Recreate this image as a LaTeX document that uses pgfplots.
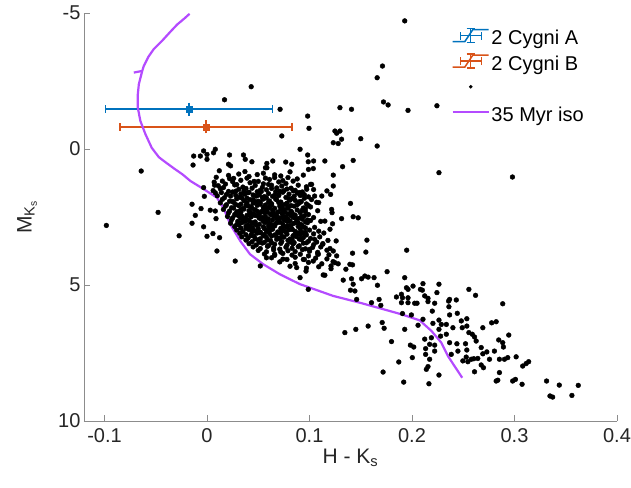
\documentclass[border=0pt]{standalone}
\usepackage{fontspec}
\setmainfont{Liberation Sans}
\usepackage{pgfplots}
\usepackage{pgfplotstable}
\pgfplotsset{compat=1.18}
\definecolor{cA}{rgb}{0,0.447,0.741}
\definecolor{cB}{rgb}{0.85,0.325,0.098}
\definecolor{iso}{RGB}{180,75,255}
\newcommand{\rowstrut}{\rule[-7pt]{0pt}{27pt}}

% field stars: H-Ks  MKs
\pgfplotstableread{
x y
0.1929 -4.71
0.1712 -3.05
0.1660 -2.62
0.1722 -1.73
0.1767 -1.62
0.1961 -1.42
0.2243 -1.59
0.0431 -2.29
0.0171 -1.81
0.0713 -1.46
0.1297 -1.52
0.1410 -1.46
0.0982 -1.21
0.0995 -0.76
0.0730 -0.48
0.1248 -0.66
0.1297 -0.66
0.1265 -0.58
0.1313 -0.36
0.1232 -0.23
0.1280 -0.20
0.1500 -0.38
0.1660 -0.11
0.0908 0.01
0.0982 0.22
0.1150 0.44
0.1426 0.42
0.2980 1.03
0.2263 0.87
-0.0642 0.81
-0.0033 0.07
0.0081 0.01
-0.0130 0.26
-0.0065 0.26
0.0000 0.20
0.0064 0.14
0.0000 0.38
-0.0136 0.59
0.0220 0.22
0.0210 0.56
0.0356 0.22
0.0373 0.38
0.0438 0.47
0.0584 0.53
0.0642 0.44
0.0584 0.69
0.0988 0.47
0.0768 0.48
0.0827 0.56
0.1037 0.72
0.1323 0.65
0.1232 0.96
0.1232 1.36
0.1206 1.67
0.1021 1.30
0.0973 1.48
0.0924 1.67
0.0842 1.54
0.1040 0.44
0.0990 0.75
0.0570 0.69
0.0230 0.62
0.1170 1.54
0.1050 1.73
0.1090 1.97
0.1220 2.34
0.1150 2.65
0.1200 2.95
0.1260 3.38
-0.0477 2.33
-0.0982 2.81
-0.0272 3.19
-0.0033 1.42
-0.0026 1.74
-0.0146 2.03
-0.0114 2.44
-0.0146 2.73
-0.0058 2.19
-0.0033 2.86
0.0000 3.21
0.0058 3.11
0.0097 3.75
0.0123 3.26
0.0032 2.25
0.0081 2.28
0.0088 2.56
0.0074 1.33
0.0081 1.61
0.0275 4.12
0.0520 4.30
0.0908 4.73
0.1134 4.63
0.0875 4.36
0.0780 4.06
0.0660 3.87
0.0580 4.00
0.0956 3.14
0.1050 3.32
0.1130 3.50
0.1000 3.69
0.1086 3.87
0.0940 4.06
0.1037 4.12
0.1400 2.00
0.1216 2.22
0.1313 2.56
0.1426 2.49
0.1475 2.53
0.1225 2.75
0.1560 3.35
0.1550 3.79
0.1948 3.72
0.1420 3.83
0.1232 3.75
0.1265 3.93
0.1248 4.18
0.1280 4.22
0.1394 4.24
0.1420 4.26
0.1355 4.42
0.1210 4.30
0.1757 4.51
0.1329 4.82
0.1410 4.77
0.1426 4.97
0.1508 4.77
0.1540 4.67
0.1572 4.71
0.1630 4.73
0.1663 5.01
0.1400 5.19
0.1443 5.22
0.1460 5.53
0.1679 5.53
0.1929 4.73
0.1946 5.10
0.1961 5.16
0.2010 5.04
0.2107 4.95
0.2082 5.16
0.2101 5.19
0.2263 4.97
0.2243 5.28
0.2555 5.16
0.2620 5.38
0.1848 5.44
0.1897 5.34
0.1907 5.47
0.1961 5.47
0.2124 5.40
0.2156 5.49
0.2367 5.53
0.2432 5.55
0.1150 4.64
0.0988 5.16
0.0966 4.49
0.1605 5.65
0.1696 5.75
0.1897 5.65
0.1345 6.75
0.1452 6.63
0.1572 6.51
0.1709 6.38
0.1961 5.65
0.2026 5.67
0.2049 5.67
0.2156 5.61
0.2221 5.67
0.2357 5.59
0.2360 5.80
0.2885 5.69
0.1907 6.05
0.1994 6.10
0.2198 5.96
0.2442 6.04
0.2535 6.24
0.2367 6.10
0.2107 6.26
0.1728 6.59
0.1929 6.63
0.2059 6.48
0.2204 6.41
0.2286 6.45
0.2335 6.45
0.2263 6.29
0.2481 6.32
0.2263 6.63
0.2399 6.57
0.2490 6.57
0.2535 6.51
0.2555 6.75
0.2588 6.81
0.2610 6.91
0.2626 7.06
0.2691 6.57
0.2777 6.39
0.2821 6.35
0.2944 6.84
0.2124 6.99
0.2189 6.94
0.2279 6.88
0.2335 6.81
0.1800 7.08
0.1984 7.21
0.2017 7.28
0.2133 7.34
0.2172 7.18
0.2221 7.21
0.2221 7.43
0.2367 7.12
0.2438 7.16
0.2448 7.43
0.2522 7.16
0.2535 7.39
0.2383 7.55
0.2529 7.65
0.2578 7.73
0.2496 7.79
0.2545 7.82
0.2603 7.71
0.2642 7.70
0.2675 7.30
0.2691 7.53
0.2730 7.46
0.2756 7.73
0.2804 7.43
0.2846 7.02
0.2885 7.12
0.2892 7.28
0.2853 7.73
0.2902 7.73
0.2934 7.67
0.3016 7.64
0.2697 8.04
0.2675 7.94
0.2610 8.19
0.2853 8.22
0.2837 8.50
0.2821 8.53
0.2982 8.53
0.3009 8.47
0.3074 8.65
0.3080 7.98
0.3113 7.89
0.3138 7.82
0.3313 8.53
0.3437 8.68
0.3622 8.69
0.3346 9.08
0.3372 9.12
0.3560 9.06
0.2263 8.31
0.2165 8.63
0.1919 8.57
0.1718 8.20
0.1871 7.83
0.2003 7.67
0.2140 8.10
0.2156 8.00
0.2172 7.73
0.2133 7.55
}\field

% the dense cluster
\pgfplotstableread{
x y
0.012 0.80
0.031 0.92
0.037 0.83
0.055 0.89
0.066 0.95
0.081 0.84
0.009 1.04
0.021 0.97
0.026 1.08
0.041 1.01
0.049 0.94
0.057 1.07
0.072 0.99
0.079 1.05
0.094 0.96
0.015 1.18
0.022 1.09
0.033 1.15
0.039 1.07
0.046 1.19
0.061 1.12
0.066 1.05
0.074 1.16
0.088 1.10
0.007 1.22
0.018 1.29
0.025 1.20
0.029 1.31
0.042 1.24
0.050 1.19
0.055 1.28
0.063 1.33
0.070 1.21
0.077 1.27
0.084 1.18
0.101 1.30
0.011 1.35
0.016 1.42
0.027 1.32
0.035 1.40
0.038 1.45
0.047 1.34
0.054 1.41
0.060 1.30
0.068 1.43
0.073 1.36
0.082 1.44
0.089 1.33
0.097 1.39
0.006 1.53
0.013 1.46
0.021 1.56
0.031 1.48
0.036 1.54
0.044 1.44
0.049 1.57
0.058 1.50
0.063 1.45
0.071 1.55
0.078 1.47
0.086 1.52
0.093 1.58
0.104 1.49
0.014 1.60
0.019 1.67
0.025 1.58
0.033 1.65
0.040 1.61
0.045 1.69
0.053 1.56
0.060 1.64
0.066 1.70
0.074 1.59
0.080 1.66
0.088 1.62
0.095 1.68
0.010 1.72
0.017 1.79
0.028 1.70
0.032 1.77
0.039 1.81
0.048 1.73
0.051 1.68
0.058 1.80
0.064 1.74
0.070 1.71
0.077 1.78
0.083 1.82
0.091 1.71
0.099 1.76
0.112 1.73
0.015 1.85
0.022 1.92
0.029 1.83
0.036 1.90
0.042 1.86
0.047 1.94
0.055 1.84
0.061 1.91
0.068 1.87
0.072 1.95
0.080 1.83
0.086 1.89
0.092 1.93
0.102 1.86
0.013 1.98
0.019 2.05
0.026 1.96
0.033 2.03
0.038 2.07
0.045 1.99
0.052 1.95
0.057 2.06
0.063 2.01
0.070 1.97
0.076 2.04
0.082 2.08
0.090 1.99
0.097 2.02
0.107 1.96
0.018 2.10
0.024 2.16
0.031 2.08
0.035 2.19
0.043 2.12
0.049 2.07
0.055 2.15
0.061 2.11
0.066 2.18
0.073 2.09
0.079 2.14
0.085 2.10
0.094 2.17
0.101 2.13
0.016 2.22
0.022 2.28
0.029 2.31
0.036 2.21
0.041 2.27
0.047 2.23
0.053 2.30
0.058 2.19
0.064 2.26
0.069 2.32
0.075 2.22
0.082 2.29
0.088 2.24
0.096 2.20
0.108 2.27
0.021 2.35
0.027 2.41
0.033 2.33
0.039 2.44
0.045 2.37
0.051 2.42
0.056 2.34
0.062 2.40
0.068 2.45
0.073 2.36
0.079 2.39
0.086 2.43
0.091 2.34
0.099 2.41
0.020 2.48
0.025 2.53
0.031 2.46
0.037 2.55
0.043 2.50
0.048 2.45
0.054 2.52
0.060 2.57
0.065 2.47
0.071 2.54
0.077 2.49
0.084 2.51
0.089 2.56
0.095 2.46
0.104 2.52
0.024 2.60
0.030 2.66
0.035 2.59
0.041 2.64
0.047 2.68
0.053 2.58
0.058 2.63
0.064 2.61
0.070 2.67
0.075 2.60
0.081 2.65
0.087 2.69
0.093 2.58
0.101 2.63
0.111 2.66
0.023 2.73
0.029 2.78
0.034 2.71
0.040 2.80
0.046 2.74
0.051 2.77
0.057 2.70
0.063 2.79
0.068 2.72
0.074 2.76
0.079 2.81
0.085 2.73
0.092 2.78
0.098 2.71
0.027 2.85
0.033 2.91
0.038 2.84
0.044 2.89
0.050 2.93
0.055 2.86
0.061 2.90
0.066 2.83
0.072 2.92
0.078 2.87
0.083 2.94
0.089 2.85
0.096 2.90
0.105 2.88
0.029 2.98
0.035 3.04
0.041 2.96
0.047 3.02
0.052 3.06
0.058 2.99
0.064 2.95
0.069 3.05
0.075 3.01
0.080 2.97
0.086 3.03
0.093 3.07
0.100 2.98
0.109 3.02
0.032 3.10
0.038 3.15
0.043 3.18
0.049 3.09
0.056 3.14
0.061 3.11
0.067 3.17
0.072 3.08
0.078 3.13
0.084 3.19
0.090 3.10
0.097 3.16
0.104 3.12
0.114 3.09
0.034 3.23
0.040 3.28
0.046 3.21
0.052 3.30
0.058 3.25
0.063 3.20
0.069 3.27
0.075 3.24
0.081 3.31
0.087 3.22
0.094 3.26
0.101 3.29
0.110 3.23
0.038 3.35
0.044 3.41
0.050 3.34
0.056 3.43
0.062 3.37
0.068 3.32
0.073 3.40
0.079 3.36
0.085 3.44
0.092 3.33
0.099 3.39
0.107 3.42
0.118 3.36
0.041 3.48
0.048 3.53
0.054 3.46
0.060 3.55
0.066 3.50
0.072 3.47
0.078 3.54
0.084 3.49
0.090 3.56
0.097 3.45
0.104 3.52
0.113 3.48
0.045 3.60
0.052 3.66
0.059 3.58
0.065 3.64
0.071 3.68
0.077 3.61
0.083 3.65
0.089 3.59
0.096 3.67
0.103 3.62
0.111 3.60
0.120 3.66
0.050 3.73
0.058 3.78
0.065 3.71
0.072 3.79
0.079 3.74
0.086 3.77
0.093 3.70
0.100 3.76
0.108 3.80
0.117 3.72
0.056 3.86
0.066 3.91
0.074 3.84
0.083 3.90
0.091 3.87
0.099 3.93
0.108 3.85
0.119 3.89
0.063 4.00
0.074 4.05
0.086 3.98
0.095 4.06
0.106 4.01
0.117 4.04
0.071 4.15
0.086 4.21
0.099 4.17
0.112 4.22
0.123 4.14
0.081 4.31
0.097 4.38
0.109 4.33
0.121 4.40
0.028 1.55
0.041 1.59
0.052 1.52
0.067 1.57
0.075 1.53
0.090 1.60
0.023 1.73
0.037 1.66
0.049 1.71
0.056 1.75
0.070 1.68
0.085 1.74
0.034 1.80
0.045 1.86
0.054 1.79
0.067 1.84
0.081 1.88
0.095 1.81
0.025 1.93
0.039 1.98
0.050 1.92
0.060 1.96
0.078 1.99
0.090 1.94
0.028 2.04
0.040 2.09
0.052 2.03
0.063 2.06
0.071 2.10
0.088 2.05
0.099 2.08
0.026 2.17
0.033 2.23
0.044 2.19
0.055 2.24
0.061 2.16
0.072 2.21
0.079 2.18
0.093 2.25
0.031 2.30
0.042 2.35
0.049 2.29
0.059 2.32
0.065 2.36
0.076 2.31
0.083 2.34
0.096 2.30
0.028 2.42
0.034 2.47
0.046 2.43
0.057 2.48
0.063 2.41
0.074 2.46
0.082 2.44
0.092 2.49
0.033 2.55
0.039 2.59
0.051 2.54
0.057 2.60
0.068 2.56
0.079 2.58
0.086 2.53
0.098 2.61
0.037 2.67
0.044 2.71
0.055 2.66
0.061 2.73
0.071 2.69
0.078 2.65
0.089 2.72
0.096 2.68
0.031 2.79
0.042 2.84
0.048 2.80
0.060 2.83
0.066 2.78
0.076 2.85
0.082 2.81
0.094 2.86
0.038 2.92
0.045 2.96
0.056 2.93
0.062 2.97
0.073 2.91
0.083 2.95
0.091 2.94
0.044 3.05
0.052 3.08
0.059 3.03
0.070 3.07
0.077 3.04
0.088 3.09
0.096 3.06
0.043 3.17
0.055 3.19
0.066 3.16
0.073 3.21
0.085 3.18
0.091 3.15
0.047 3.30
0.059 3.34
0.071 3.29
0.083 3.33
0.090 3.31
0.051 3.43
0.063 3.45
0.081 3.42
0.094 3.46
}\cluster

% 35 Myr isochrone
\pgfplotstableread{
x y
0.249 8.41
0.235 7.61
0.2286 7.12
0.219 6.69
0.2075 6.30
0.190 6.08
0.172 5.89
0.149 5.65
0.123 5.40
0.0908 4.97
0.0842 4.85
0.0713 4.61
0.055 4.24
0.042 3.87
0.0324 3.38
0.0227 2.77
0.016 2.16
0.0097 1.79
-0.003 1.48
-0.016 1.18
-0.024 0.93
-0.032 0.72
-0.040 0.50
-0.047 0.30
-0.054 -0.05
-0.060 -0.54
-0.065 -1.03
-0.0675 -1.52
-0.0675 -2.01
-0.0665 -2.38
-0.0632 -2.87
-0.0714 -2.81
-0.0632 -2.87
-0.0617 -3.05
-0.057 -3.40
-0.052 -3.67
-0.044 -3.97
-0.036 -4.30
-0.029 -4.58
-0.022 -4.80
-0.017 -4.97
}\iso

\begin{document}
\begin{tikzpicture}
\begin{axis}[
  width=533pt, height=408pt, scale only axis,
  xmin=-0.12, xmax=0.4,
  ymin=-5, ymax=10, y dir=reverse,
  axis x line*=bottom, axis y line*=left,
  xtick={-0.1,0,0.1,0.2,0.3,0.4},
  xticklabels={-0.1,0,0.1,0.2,0.3,0.4},
  ytick={-5,0,5,10},
  yticklabels={-5,0,5,10},
  tick align=inside, major tick length=6pt,
  axis line style={black!45, line width=0.8pt, -},
  tick style={black!45, line width=0.8pt},
  tick label style={font=\fontsize{20}{24}\selectfont, text=black!85},
  x tick label style={yshift=-4pt},
  xlabel={H - K\textsubscript{s}},
  ylabel={M\textsubscript{K\textsubscript{s}}},
  label style={font=\fontsize{21}{25}\selectfont, text=black!85},
  xlabel style={at={(axis description cs:0.5,-0.09)}, anchor=center},
  ylabel style={at={(axis description cs:-0.107,0.5)}, anchor=center},
  legend style={at={(rel axis cs:0.690,0.976)}, anchor=north west,
    draw=none, fill=none, inner sep=0pt, font=\fontsize{20}{24}\selectfont,
    legend cell align=left, row sep=0pt},
]
% 2 Cygni A
\addplot[cA, only marks, mark=square*, mark size=2.8pt,
  legend image code/.code={
    \draw[cA, line width=1.5pt] (0pt,-6pt) -- (12pt,-6pt) -- (20pt,6pt) -- (36pt,6pt);
    \draw[cA, line width=1.5pt] (8pt,0pt) -- (29pt,0pt)
      (8pt,-4pt) -- (8pt,4pt) (29pt,-4pt) -- (29pt,4pt)
      (18pt,-7pt) -- (18pt,7pt) (14pt,-7pt) -- (22pt,-7pt) (14pt,7pt) -- (22pt,7pt);},
  error bars/.cd, x dir=both, x explicit, error mark=|,
  error bar style={line width=1.6pt, cA},
  error mark options={line width=1.6pt, mark size=4pt, cA},
  ] coordinates {(-0.0175,-1.47) +- (0.0815,0)};
\addlegendentry{\rowstrut 2 Cygni A}
% 2 Cygni B
\addplot[cB, only marks, mark=square*, mark size=2.8pt,
  legend image code/.code={
    \draw[cB, line width=1.5pt] (0pt,-6pt) -- (12pt,-6pt) -- (20pt,6pt) -- (36pt,6pt);
    \draw[cB, line width=1.5pt] (8pt,0pt) -- (29pt,0pt)
      (8pt,-4pt) -- (8pt,4pt) (29pt,-4pt) -- (29pt,4pt)
      (18pt,-7pt) -- (18pt,7pt) (14pt,-7pt) -- (22pt,-7pt) (14pt,7pt) -- (22pt,7pt);},
  error bars/.cd, x dir=both, x explicit, error mark=|,
  error bar style={line width=1.6pt, cB},
  error mark options={line width=1.6pt, mark size=4pt, cB},
  ] coordinates {(-0.001,-0.81) +- (0.084,0)};
\addlegendentry{\rowstrut 2 Cygni B}
% small vertical error bars
\addplot[cA, forget plot, draw=none, mark=none,
  error bars/.cd, y dir=both, y explicit, error mark=-,
  error bar style={line width=1.6pt, cA},
  error mark options={line width=1.6pt, mark size=3.5pt, cA},
  ] coordinates {(-0.0175,-1.47) +- (0,0.11)};
\addplot[cB, forget plot, draw=none, mark=none,
  error bars/.cd, y dir=both, y explicit, error mark=-,
  error bar style={line width=1.6pt, cB},
  error mark options={line width=1.6pt, mark size=3.5pt, cB},
  ] coordinates {(-0.001,-0.81) +- (0,0.11)};
% field stars
\addplot[only marks, mark=*, mark size=2.4pt, black,
  legend image code/.code={\fill[black] (18pt,0pt) circle (1.6pt);}] table {\field};
\addlegendentry{\rowstrut}
\addplot[only marks, mark=*, mark size=2.4pt, black, forget plot] table {\cluster};
% isochrone
\addplot[iso, line width=2.2pt,
  legend image code/.code={\draw[iso, line width=1.5pt] (0pt,0pt) -- (36pt,0pt);}] table {\iso};
\addlegendentry{\rowstrut 35 Myr iso}
\coordinate (ll) at (axis cs:-0.12,10);
\end{axis}
\pgfresetboundingbox
\path[use as bounding box] ([shift={(-84pt,-66pt)}]ll) rectangle ++(631pt,487pt);
\end{tikzpicture}
\end{document}
